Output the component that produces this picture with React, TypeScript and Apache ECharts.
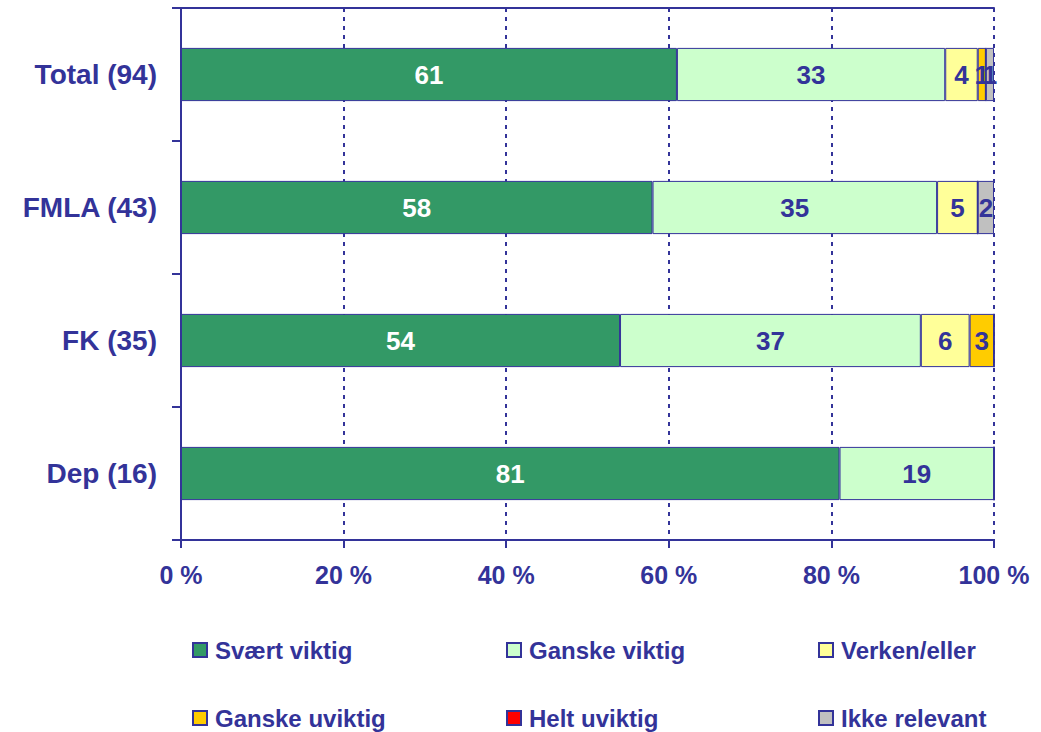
import React, { useEffect, useRef } from "react";
import * as echarts from "echarts";

const categories = ["Total (94)", "FMLA (43)", "FK (35)", "Dep (16)"];
const seriesNames = ["Svært viktig", "Ganske viktig", "Verken/eller", "Ganske uviktig", "Helt uviktig", "Ikke relevant"];
const svaertViktig = [61, 58, 54, 81];
const ganskeViktig = [33, 35, 37, 19];
const verkenEller = [4, 5, 6, 0];
const ganskeUviktig = [1, 0, 3, 0];
const heltUviktig = [0, 0, 0, 0];
const ikkeRelevant = [1, 2, 0, 0];
const xTicks = [0, 20, 40, 60, 80, 100];
const colors = ["#339966", "#CCFFCC", "#FFFF99", "#FFCC00", "#FF0000", "#C0C0C0"];
const legendPos = [
  { left: 192, top: 638 },
  { left: 506, top: 638 },
  { left: 818, top: 638 },
  { left: 192, top: 706 },
  { left: 506, top: 706 },
  { left: 818, top: 706 },
];

const INK = "#333399";
const FONT = "'Liberation Sans', Arial, sans-serif";

export default function App() {
  const ref = useRef<HTMLDivElement>(null);
  useEffect(() => {
    document.body.style.margin = "0";
    if (!ref.current) return;
    const chart = echarts.init(ref.current, undefined, { renderer: "svg" });
    const allData = [svaertViktig, ganskeViktig, verkenEller, ganskeUviktig, heltUviktig, ikkeRelevant];
    const series = seriesNames.map((name, i) => ({
      name,
      type: "bar",
      stack: "total",
      barCategoryGap: "60%",
      data: allData[i],
      itemStyle: { color: colors[i], borderColor: INK, borderWidth: 1 },
      label: {
        show: true,
        position: "inside",
        color: i === 0 ? "#FFFFFF" : INK,
        fontFamily: FONT,
        fontWeight: "bold",
        fontSize: 26,
        formatter: (p: any) => (p.value === 0 ? "" : String(p.value)),
      },
    }));
    const legends = seriesNames.map((name, i) => ({
      data: [name],
      left: legendPos[i].left,
      top: legendPos[i].top,
      padding: 0,
      itemWidth: 14,
      itemHeight: 14,
      icon: "rect",
      selectedMode: false,
      textStyle: {
        color: INK,
        fontFamily: FONT,
        fontWeight: "bold",
        fontSize: 24,
        padding: [0, 0, 0, 3],
      },
    }));
    chart.setOption({
      animation: false,
      backgroundColor: "#FFFFFF",
      grid: { left: 181, right: 47, top: 8, bottom: 192 },
      legend: legends,
      xAxis: [
        {
          type: "value",
          min: 0,
          max: 100,
          interval: 20,
          position: "bottom",
          axisLine: { show: true, lineStyle: { color: INK, width: 2 } },
          axisTick: { show: true, length: 8, lineStyle: { color: INK, width: 2 } },
          axisLabel: {
            color: INK,
            fontFamily: FONT,
            fontWeight: "bold",
            fontSize: 25,
            margin: 22,
            formatter: (v: number) => (xTicks.includes(v) ? v + " %" : ""),
          },
          splitLine: { show: true, lineStyle: { color: INK, width: 2, type: [4, 5] } },
        },
        {
          type: "value",
          min: 0,
          max: 100,
          interval: 20,
          position: "top",
          axisLine: { show: true, lineStyle: { color: INK, width: 2 } },
          axisTick: { show: false },
          axisLabel: { show: false },
          splitLine: { show: false },
        },
      ],
      yAxis: {
        type: "category",
        inverse: true,
        data: categories,
        axisLine: { show: true, lineStyle: { color: INK, width: 2 } },
        axisTick: { show: true, length: 9, lineStyle: { color: INK, width: 2 } },
        axisLabel: {
          color: INK,
          fontFamily: FONT,
          fontWeight: "bold",
          fontSize: 28,
          margin: 24,
        },
      },
      series,
    });
    return () => chart.dispose();
  }, []);
  return <div ref={ref} style={{ width: 1041, height: 732 }} />;
}
